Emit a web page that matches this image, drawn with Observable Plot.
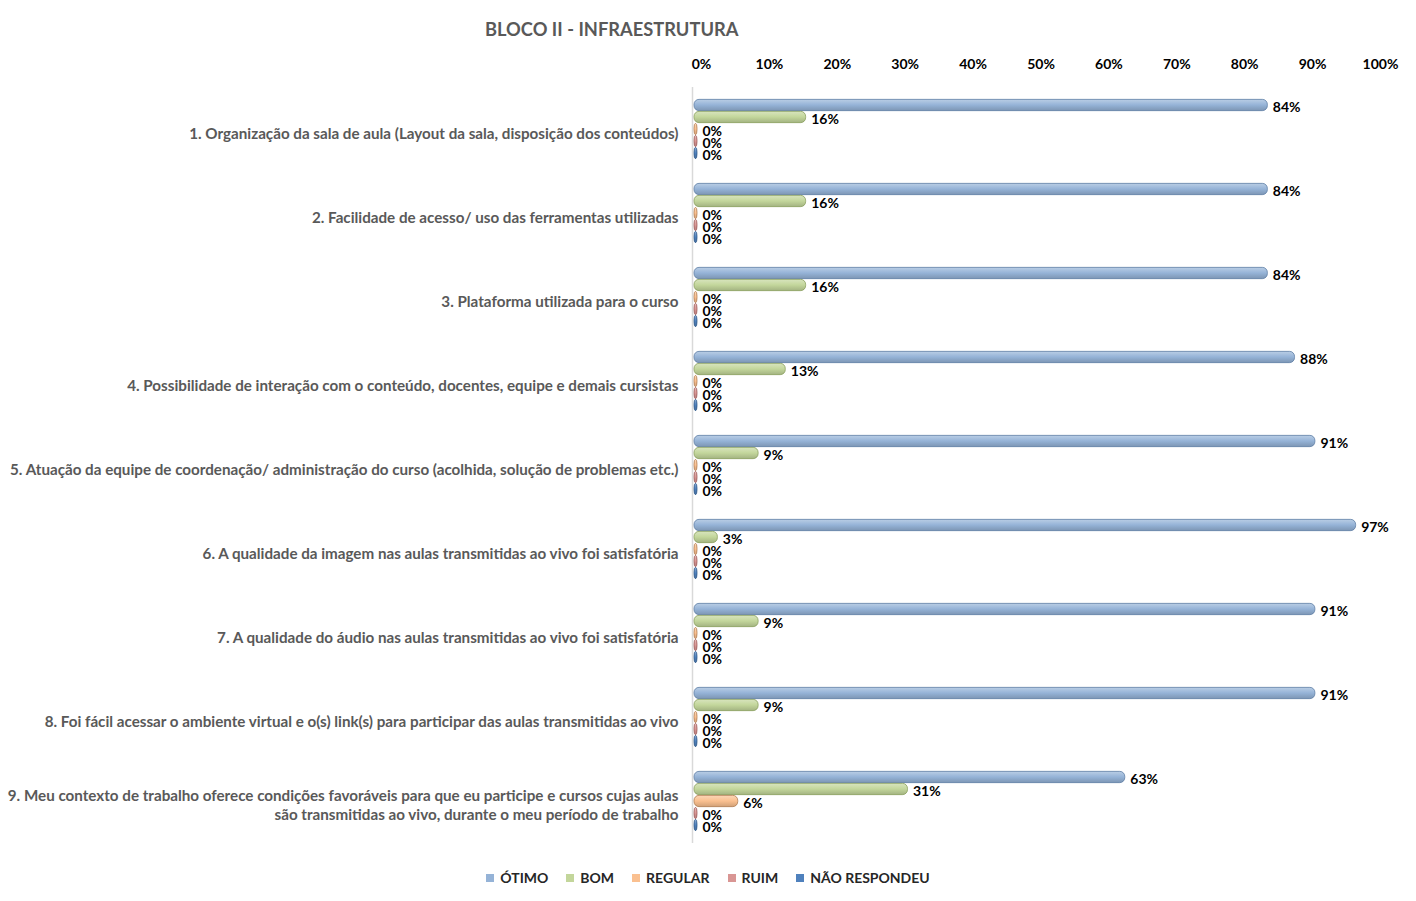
<!DOCTYPE html>
<html>
<head>
<meta charset="utf-8">
<script src="https://cdn.jsdelivr.net/npm/d3@7"></script>
<script src="https://cdn.jsdelivr.net/npm/@observablehq/plot@0.6"></script>
<style>
  body { margin: 0; background: #fff; font-family: Lato, "Open Sans", sans-serif; }
  #wrap { position: relative; width: 1416px; height: 901px; }
  #title { position: absolute; left: 485px; top: 18px; font-size: 18.3px; font-weight: bold; color: #595959; white-space: nowrap; }
  #chart { position: absolute; left: 0; top: 48px; }
  #legend { position: absolute; left: 0; top: 869px; width: 1416px; display: flex; justify-content: center; gap: 18px; font-size: 14px; font-weight: bold; color: #262626; }
  .item { display: flex; align-items: center; gap: 6px; }
  .sw { width: 8px; height: 8px; display: inline-block; }
</style>
</head>
<body>
<div id="wrap">
  <div id="title">BLOCO II - INFRAESTRUTURA</div>
  <div id="chart"></div>
  <div id="legend"></div>
</div>
<script>
const categories = [
  "1. Organização da sala de aula (Layout da sala, disposição dos conteúdos)",
  "2. Facilidade de acesso/ uso das ferramentas utilizadas",
  "3. Plataforma utilizada para o curso",
  "4. Possibilidade de interação com o conteúdo, docentes, equipe e demais cursistas",
  "5. Atuação da equipe de coordenação/ administração do curso (acolhida, solução de problemas etc.)",
  "6. A qualidade da imagem nas aulas transmitidas ao vivo foi satisfatória",
  "7. A qualidade do áudio nas aulas transmitidas ao vivo foi satisfatória",
  "8. Foi fácil acessar o ambiente virtual e o(s) link(s) para participar das aulas transmitidas ao vivo",
  "9. Meu contexto de trabalho oferece condições favoráveis para que eu participe e cursos cujas aulas\nsão transmitidas ao vivo, durante o meu período de trabalho"
];
const series = ["ÓTIMO", "BOM", "REGULAR", "RUIM", "NÃO RESPONDEU"];
const otimo        = [0.84, 0.84, 0.84, 0.88, 0.91, 0.97, 0.91, 0.91, 0.63];
const bom          = [0.16, 0.16, 0.16, 0.13, 0.09, 0.03, 0.09, 0.09, 0.31];
const regular      = [0, 0, 0, 0, 0, 0, 0, 0, 0.06];
const ruim         = [0, 0, 0, 0, 0, 0, 0, 0, 0];
const naoRespondeu = [0, 0, 0, 0, 0, 0, 0, 0, 0];
const xTicks = [0, 0.1, 0.2, 0.3, 0.4, 0.5, 0.6, 0.7, 0.8, 0.9, 1];

const seriesColors = ["#95B3D7", "#C3D69B", "#FAC090", "#D99694", "#4F81BD"];
const strokeColors = ["#5F7FA6", "#8AA05E", "#B07C50", "#9A5A58", "#2F5887"];

const values = [otimo, bom, regular, ruim, naoRespondeu];
const table = categories.flatMap((c, i) => series.map((s, k) => ({cat: c, series: s, value: values[k][i], k})));
const pct = d3.format(".0%");

const chart = Plot.plot({
  width: 1416,
  height: 810,
  marginTop: 39,
  marginBottom: 15,
  marginLeft: 695,
  marginRight: 42,
  style: {fontFamily: "Lato, 'Open Sans', sans-serif", background: "transparent"},
  x: {domain: [0, 1], axis: null},
  y: {domain: series, axis: null, paddingInner: 0.06, paddingOuter: 1.03, round: false},
  fy: {domain: categories, padding: 0, axis: null, round: false},
  color: {type: "identity"},
  marks: [
    Plot.axisX({anchor: "top", ticks: xTicks, tickFormat: pct, tickSize: 0, tickPadding: 19, dx: 6,
      fontSize: 14, fontWeight: "bold", fill: "#000", label: null}),
    Plot.axisFy({anchor: "left", tickSize: 0, tickPadding: 17, fontSize: 15.2, fontWeight: "bold",
      fill: "#595959", label: null, lineHeight: 1.27, dy: 3}),
    Plot.ruleX([0], {dx: -3, stroke: "#d9d9d9", strokeWidth: 1.5}),
    Plot.barX(table, {fy: "cat", y: "series", x: "value",
      fill: d => `url(#grad${d.k})`, stroke: d => strokeColors[d.k], strokeWidth: 0.8,
      rx: 5, insetLeft: -1, insetRight: -2}),
    Plot.text(table, {fy: "cat", y: "series", x: "value", text: d => pct(d.value),
      textAnchor: "start", dx: 7, dy: 2, fontSize: 14, fontWeight: "bold", fill: "#000"})
  ]
});

const defs = d3.select(chart).insert("defs", ":first-child");
seriesColors.forEach((c, k) => {
  const g = defs.append("linearGradient").attr("id", `grad${k}`)
    .attr("x1", 0).attr("y1", 0).attr("x2", 0).attr("y2", 1);
  g.append("stop").attr("offset", "0%").attr("stop-color", d3.interpolateRgb(c, "#fff")(0.35));
  g.append("stop").attr("offset", "50%").attr("stop-color", c);
  g.append("stop").attr("offset", "100%").attr("stop-color", d3.color(c).darker(0.5).formatHex());
});

document.getElementById("chart").appendChild(chart);

const legend = d3.select("#legend");
series.forEach((s, k) => {
  const it = legend.append("div").attr("class", "item");
  it.append("span").attr("class", "sw").style("background", seriesColors[k]);
  it.append("span").text(s);
});
</script>
</body>
</html>
